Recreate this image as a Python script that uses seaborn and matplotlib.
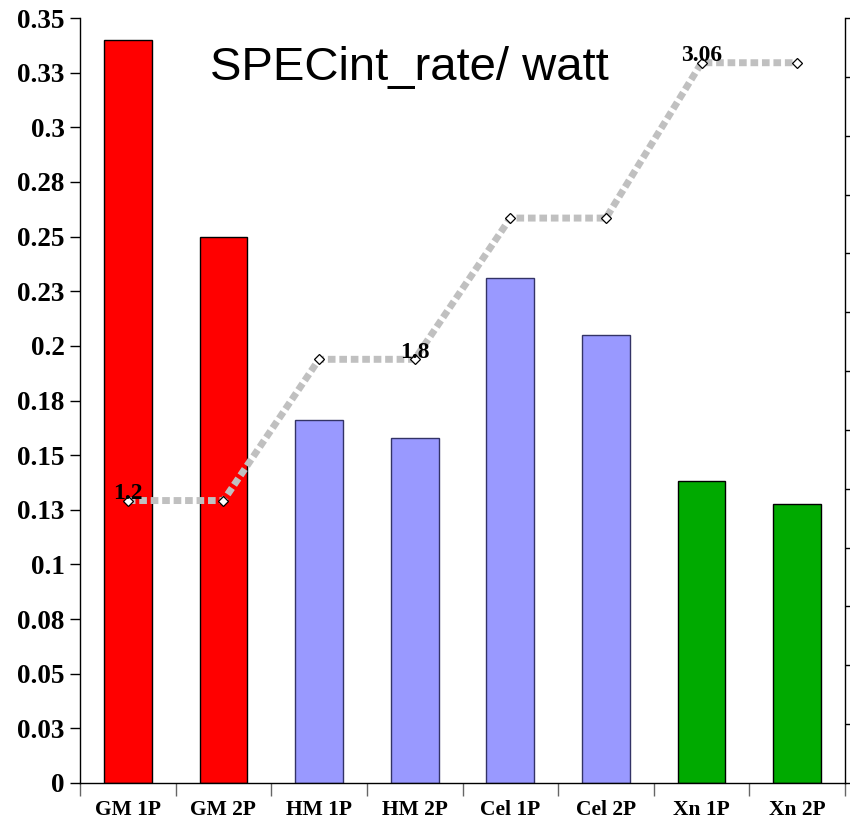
import matplotlib
matplotlib.use("Agg")
import matplotlib.pyplot as plt
import matplotlib.ticker as mticker
from matplotlib import font_manager
import seaborn as sns
import pandas as pd
import numpy as np

# ---- data ----
categories = ["GM 1P", "GM 2P", "HM 1P", "HM 2P", "Cel 1P", "Cel 2P", "Xn 1P", "Xn 2P"]
specint_per_watt = [0.340, 0.250, 0.166, 0.158, 0.231, 0.205, 0.138, 0.1275]
line_values = [1.2, 1.2, 1.8, 1.8, 2.4, 2.4, 3.06, 3.06]
point_labels = ["1.2", "", "", "1.8", "", "", "3.06", ""]
bar_colors = ["#FF0000", "#FF0000", "#9999FF", "#9999FF", "#9999FF", "#9999FF", "#00AA00", "#00AA00"]
bar_edges = ["#000000", "#000000", "#333366", "#333366", "#333366", "#333366", "#000000", "#000000"]
left_ticks = [0, 0.025, 0.05, 0.075, 0.1, 0.125, 0.15, 0.175, 0.2, 0.225, 0.25, 0.275, 0.3, 0.325, 0.35]
left_tick_labels = ["0", "0.03", "0.05", "0.08", "0.1", "0.13", "0.15", "0.18", "0.2", "0.23",
                    "0.25", "0.28", "0.3", "0.33", "0.35"]
right_ticks = [0, 0.25, 0.5, 0.75, 1.0, 1.25, 1.5, 1.75, 2.0, 2.25, 2.5, 2.75, 3.0, 3.25]
title_text = "SPECint_rate/ watt"

df = pd.DataFrame({"cat": categories, "val": specint_per_watt, "line": line_values})

sns.set_theme(style="white")
plt.rcParams["font.family"] = ["Liberation Serif", "DejaVu Serif"]
plt.rcParams["text.color"] = "black"
plt.rcParams["xtick.color"] = "black"
plt.rcParams["ytick.color"] = "black"

# look for a narrow sans font for the title, fall back to Liberation Sans
narrow_family = None
for f in font_manager.fontManager.ttflist:
    if f.name in ("Liberation Sans Narrow", "Arial Narrow"):
        narrow_family = f.name
        break
title_kw = dict(fontsize=34, family=["Liberation Sans", "DejaVu Sans"])
if narrow_family:
    title_kw = dict(fontsize=40, family=[narrow_family, "Liberation Sans"])

fig = plt.figure(figsize=(8.5, 8.25), dpi=100)
ax = fig.add_axes([80 / 850, 1 - 783 / 825, (845 - 80) / 850, (783 - 18) / 825])

sns.barplot(data=df, x="cat", y="val", hue="cat", palette=bar_colors, width=0.5,
            legend=False, ax=ax, saturation=1)
for patch, ec in zip(ax.patches, bar_edges):
    patch.set_edgecolor(ec)
    patch.set_linewidth(1.0)

ax.set_xlim(-0.5, len(categories) - 0.5)
ax.set_ylim(0, 0.35)
ax.set_yticks(left_ticks)
ax.set_yticklabels(left_tick_labels)
ax.set_xlabel("")
ax.set_ylabel("")

for lbl in ax.get_yticklabels():
    lbl.set_fontweight("bold")
    lbl.set_fontsize(19.5)
    lbl.set_color("black")
for lbl in ax.get_xticklabels():
    lbl.set_fontweight("bold")
    lbl.set_fontsize(15.5)
    lbl.set_color("black")

ax.tick_params(axis="y", which="major", direction="out", length=7, width=1, color="black",
               left=True, pad=4)
ax.tick_params(axis="x", which="major", length=0, pad=12)
ax.xaxis.set_minor_locator(mticker.FixedLocator(np.arange(-0.5, len(categories), 1.0)))
ax.tick_params(axis="x", which="minor", direction="out", length=9, width=1, color="#666666",
               bottom=True)

for s in ["left", "bottom"]:
    ax.spines[s].set_color("black")
    ax.spines[s].set_linewidth(1.0)
ax.spines["top"].set_visible(False)
ax.spines["right"].set_visible(False)

ax2 = ax.twinx()
sns.lineplot(data=df, x="cat", y="line", ax=ax2, sort=False, color="#C0C0C0",
             linewidth=5, marker="D", markersize=5.5, markerfacecolor="white",
             markeredgecolor="black", markeredgewidth=0.9)
ax2.lines[0].set_linestyle((0, (1.1, 0.55)))
ax2.set_ylim(0, 3.25)
ax2.set_yticks(right_ticks)
ax2.set_yticklabels([])
ax2.set_ylabel("")
ax2.tick_params(axis="y", direction="out", length=6, width=1, color="black", right=True)
ax2.spines["right"].set_color("black")
ax2.spines["right"].set_linewidth(1.0)
ax2.spines["top"].set_visible(False)
ax2.spines["left"].set_visible(False)
ax2.spines["bottom"].set_visible(False)

for i, (v, t) in enumerate(zip(line_values, point_labels)):
    if t:
        ax2.annotate(t, (i, v), xytext=(0, -2.5), textcoords="offset points",
                     ha="center", va="bottom", fontsize=17, fontweight="bold",
                     color="black", family=["Liberation Serif", "DejaVu Serif"])

ax.text(0.43, 0.935, title_text, transform=ax.transAxes, ha="center", va="center",
        color="black", **title_kw)

fig.savefig("out.png", dpi=100)
